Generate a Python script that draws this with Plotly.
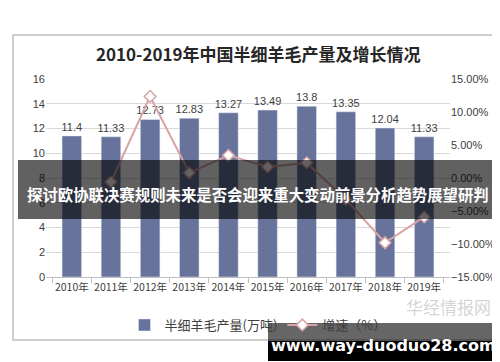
import plotly.graph_objects as go

years = ["2010年", "2011年", "2012年", "2013年", "2014年", "2015年", "2016年", "2017年", "2018年", "2019年"]
production = [11.4, 11.33, 12.73, 12.83, 13.27, 13.49, 13.8, 13.35, 12.04, 11.33]
growth_pct = [None, -0.61, 12.36, 0.79, 3.43, 1.66, 2.30, -3.26, -9.81, -5.90]

title_text = "2010-2019年中国半细羊毛产量及增长情况"
banner_text = "探讨欧协联决赛规则未来是否会迎来重大变动前景分析趋势展望研判"
url_text = "www.way-duoduo28.com"

L, R, T, B = 38, 58, 71, 93
W, H = 500, 362
pw, ph = W - L - R, H - T - B


def px(x):
    return (x - L) / pw


def py(y):
    return (H - B - y) / ph


fig = go.Figure()
fig.add_trace(go.Bar(
    x=years, y=production, name="半细羊毛产量(万吨)",
    marker=dict(color="#68739C"), width=0.5,
    text=[f"{v:g}" for v in production], textposition="outside", constraintext="none",
    textfont=dict(size=11, color="#404040", family="Liberation Sans, Arial"),
    cliponaxis=False,
))
fig.add_trace(go.Scatter(
    x=years, y=[None if g is None else g / 100 for g in growth_pct],
    name="增速（%）", yaxis="y2", mode="lines+markers",
    line=dict(color="#D9A3A3", width=2),
    marker=dict(symbol="diamond", size=9, color="white", line=dict(color="#D9A3A3", width=1.5)),
))

shapes = [
    dict(type="rect", xref="paper", yref="paper", x0=px(5), x1=px(495), y0=py(27), y1=py(332),
         line=dict(color="#BFBFBF", width=1.5), fillcolor="rgba(0,0,0,0)", layer="below"),
    dict(type="rect", xref="paper", yref="paper", x0=px(10), x1=px(490), y0=py(152), y1=py(211),
         line=dict(width=0), fillcolor="rgba(0,0,0,0.62)", layer="above"),
    dict(type="rect", xref="paper", yref="paper", x0=px(260), x1=px(491), y0=py(315), y1=py(333),
         line=dict(width=0), fillcolor="rgba(0,0,0,0.6)", layer="above"),
    dict(type="rect", xref="paper", yref="paper", x0=px(260), x1=px(491), y0=py(333), y1=py(353),
         line=dict(width=0), fillcolor="black", layer="above"),
]

annotations = [
    dict(text=f"<b>{title_text}</b>", xref="paper", yref="paper", x=px(250), y=py(46),
         showarrow=False, font=dict(size=17, color="#262626", family="Noto Sans CJK SC"),
         xanchor="center", yanchor="middle"),
    dict(text="华经情报网", xref="paper", yref="paper", x=px(440), y=py(298),
         showarrow=False, font=dict(size=17, color="rgba(170,170,170,0.5)", family="Noto Sans CJK SC"),
         xanchor="center", yanchor="middle"),
    dict(text=f"<b>{banner_text}</b>", xref="paper", yref="paper", x=px(250), y=py(186),
         showarrow=False, font=dict(size=15.4, color="white", family="Noto Sans CJK SC"),
         xanchor="center", yanchor="middle"),
    dict(text=f"<b>{url_text}</b>", xref="paper", yref="paper", x=px(375), y=py(337),
         showarrow=False, font=dict(size=16, color="white", family="DejaVu Sans"),
         xanchor="center", yanchor="middle"),
]

fig.update_layout(
    width=W, height=H, margin=dict(l=L, r=R, t=T, b=B),
    paper_bgcolor="white", plot_bgcolor="white",
    showlegend=True,
    legend=dict(orientation="h", x=px(250), y=py(317), xanchor="center", yanchor="middle",
                font=dict(size=13, color="#404040", family="Noto Sans CJK SC"),
                bgcolor="rgba(0,0,0,0)"),
    xaxis=dict(type="category", showline=True, linecolor="#BFBFBF", ticks="outside",
               tickson="boundaries", ticklen=5, tickcolor="#BFBFBF", tickangle=0, automargin=False,
               tickfont=dict(size=10.5, color="#404040", family="Noto Sans CJK SC"), showgrid=False),
    yaxis=dict(range=[0, 16], dtick=2, showgrid=True, gridcolor="#D9D9D9", zeroline=False,
               automargin=False,
               tickfont=dict(size=11, color="#404040", family="Liberation Sans, Arial"), ticklen=0),
    yaxis2=dict(range=[-0.15, 0.15], dtick=0.05, tickformat=".2%", overlaying="y", side="right",
                showgrid=False, zeroline=False, automargin=False,
                tickfont=dict(size=11, color="#404040", family="Liberation Sans, Arial")),
    bargap=0.5,
    shapes=shapes, annotations=annotations,
)

fig.write_html("out.html")
